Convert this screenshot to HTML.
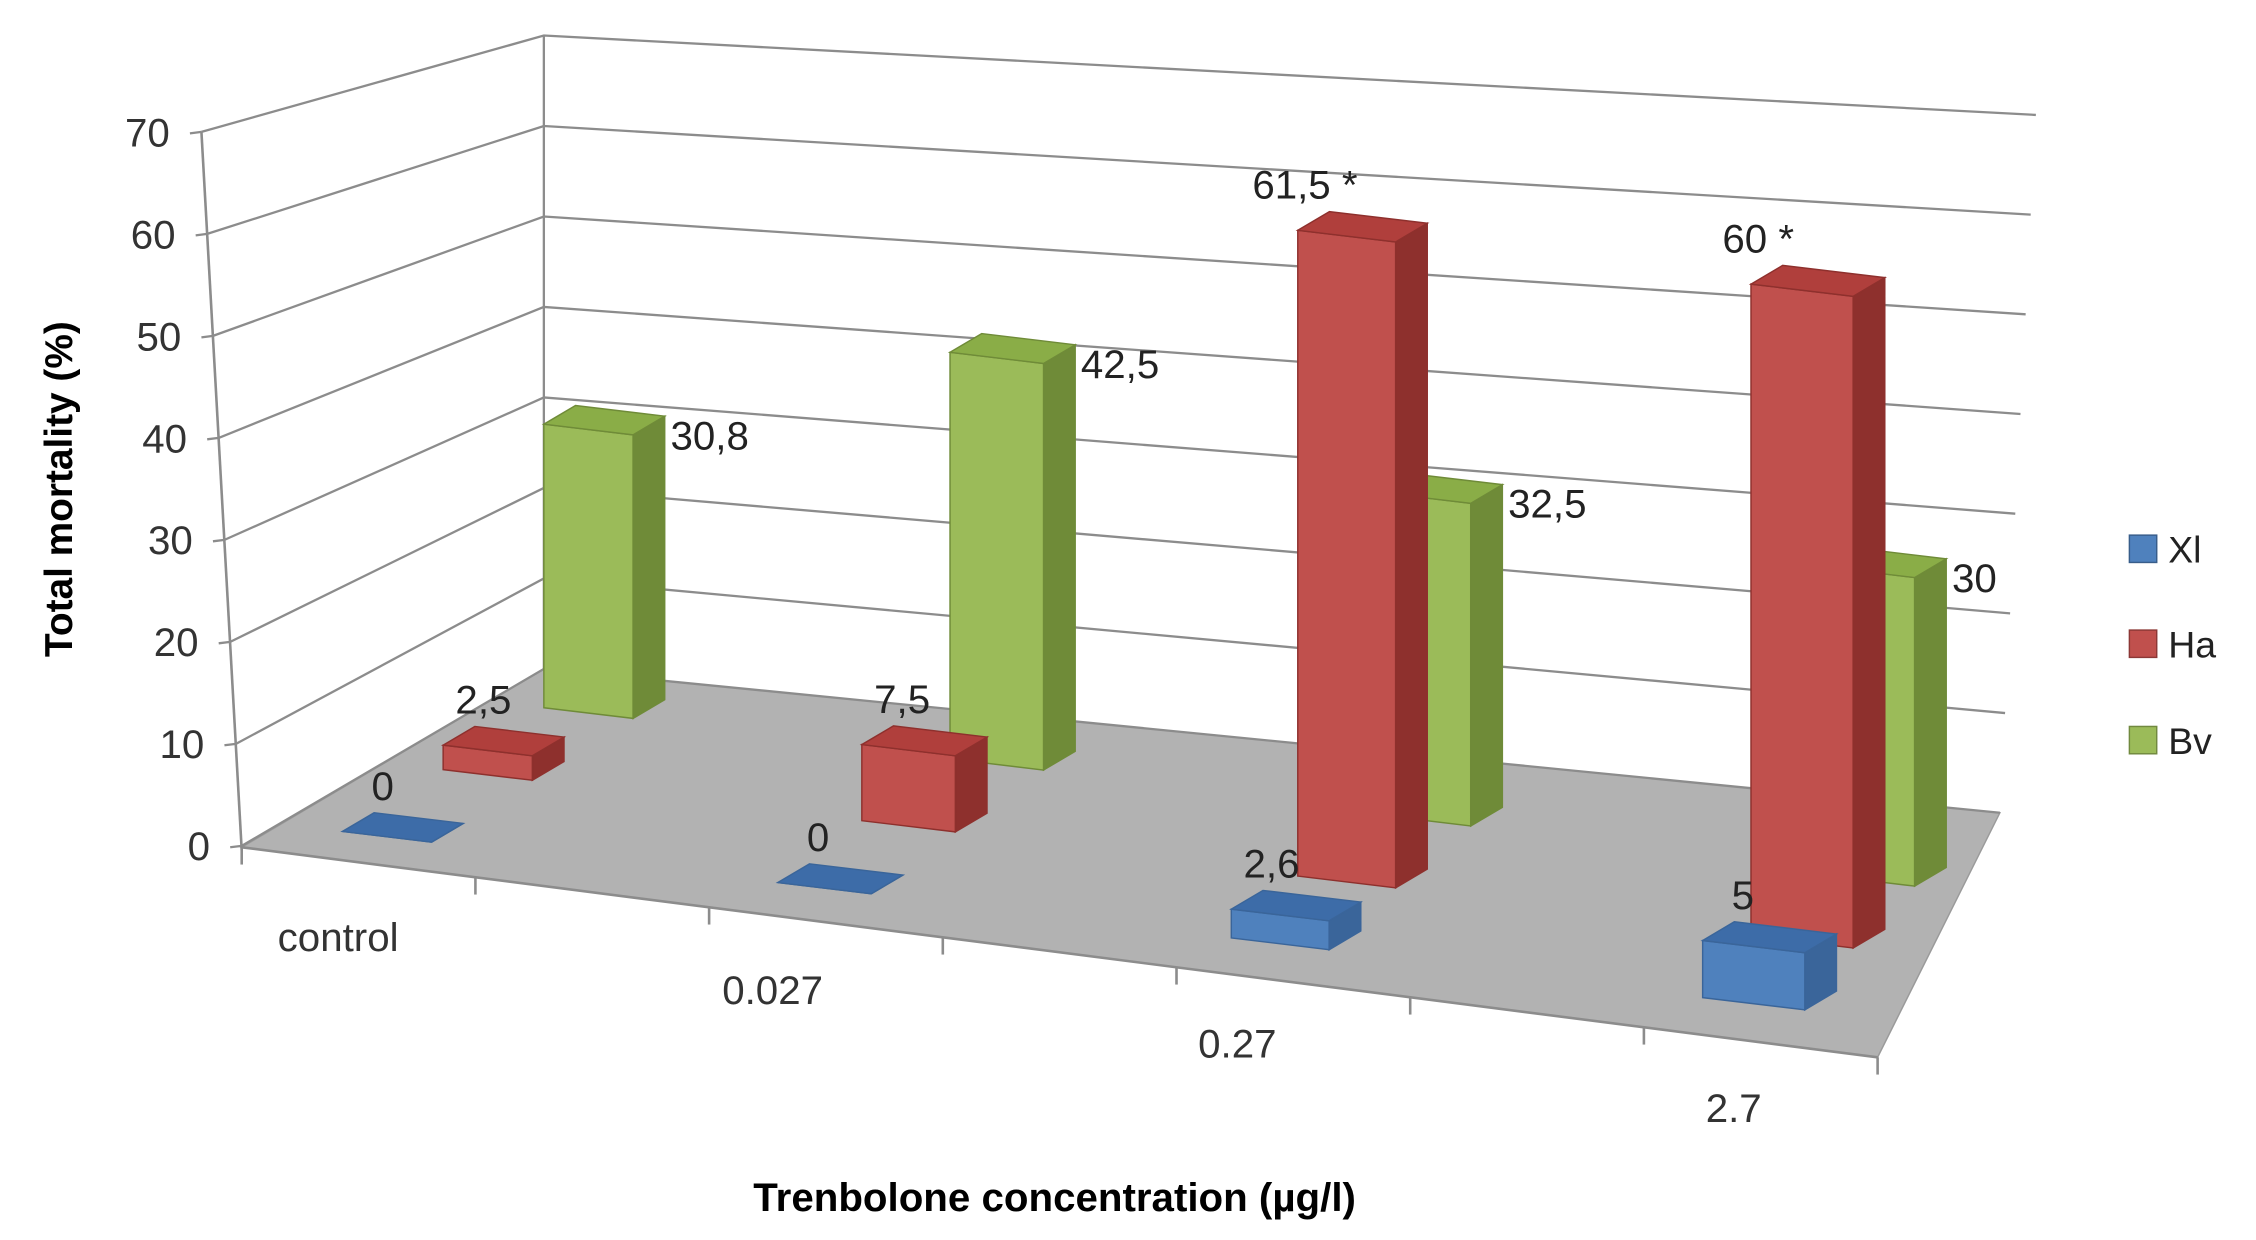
<!DOCTYPE html>
<html><head><meta charset="utf-8"><style>
html,body{margin:0;padding:0;background:#fff;}
svg{display:block;font-family:"Liberation Sans",sans-serif;}
</style></head><body>
<svg id="chart" width="2256" height="1240" viewBox="0 0 1568 862" preserveAspectRatio="none" xmlns="http://www.w3.org/2000/svg">
<g id="walls"></g>
<g id="bars"></g>
<g id="labels"></g>
<text transform="translate(50,340) rotate(-90)" text-anchor="middle" font-size="27" font-weight="bold" fill="#000">Total mortality (%)</text>
<text x="733" y="842" text-anchor="middle" font-size="28" font-weight="bold" fill="#000">Trenbolone concentration (µg/l)</text>
<g>
 <g><rect x="1480" y="372" width="19" height="19" fill="#4F81BD" stroke="#385D8A"/><text x="1507" y="391" font-size="26" fill="#222">Xl</text></g>
 <g><rect x="1480" y="438" width="19" height="19" fill="#C0504D" stroke="#8C3836"/><text x="1507" y="457" font-size="26" fill="#222">Ha</text></g>
 <g><rect x="1480" y="505" width="19" height="19" fill="#9BBB59" stroke="#71893F"/><text x="1507" y="524" font-size="26" fill="#222">Bv</text></g>
</g>
</svg>
<script>
const categories = ["control", "0.027", "0.27", "2.7"];
const seriesNames = ["Xl", "Ha", "Bv"];
const xlValues = [0, 0, 2.6, 5];
const haValues = [2.5, 7.5, 61.5, 60];
const bvValues = [30.8, 42.5, 32.5, 30];
const valueLabels = [["0","0","2,6","5"],["2,5","7,5","61,5 *","60 *"],["30,8","42,5","32,5","30"]];
const yTicks = [0, 10, 20, 30, 40, 50, 60, 70];

const NS = "http://www.w3.org/2000/svg";
const series = [xlValues, haValues, bvValues];
const colors = [
  {front:"#4F81BD", side:"#3A659A", top:"#3D6CA8"},
  {front:"#C0504D", side:"#8E302D", top:"#B03F3C"},
  {front:"#9BBB59", side:"#6F8B38", top:"#8AAD47"}
];
function mk(tag, attrs, parent){const e=document.createElementNS(NS,tag);for(const k in attrs)e.setAttribute(k,attrs[k]);parent.appendChild(e);return e;}
function pts(a){return a.map(p=>p[0].toFixed(1)+","+p[1].toFixed(1)).join(" ");}

function axisY(v){return 588-7.09*v;}
function axisX(v){return 168-28*v/70;}
function backLeft(v){return [378,465-6.29*v];}
function backRight(v){return [1390+25*v/70,565-6.93*v];}
const seriesSpread=[1.04,1.0,0.97];
function base(i,s){
  const f=seriesSpread[s];
  return [238+s*70+f*(285*i+6*i*i), 578-s*43+34*i+1.5*i*i];
}
function hScale(i,s){return 7.2+0.25*i-0.4*s;}
function barW(i){return 62+3*i;}
const depth=[22,-13];

const walls=document.getElementById("walls");
let fl=mk("polygon",{points:pts([[168,589],[378,465],[1390,565],[1305,735]]),fill:"#B2B2B2",stroke:"#9a9a9a"},walls);


yTicks.forEach(v=>{
  const bl=backLeft(v), br=backRight(v);
  const l=mk("polyline",{points:pts([[axisX(v),axisY(v)],bl,br]),fill:"none",stroke:"#8c8c8c","stroke-width":1.6},walls);
  
  
  const t=mk("line",{x1:axisX(v)-8,y1:axisY(v)+1,x2:axisX(v),y2:axisY(v),stroke:"#8c8c8c","stroke-width":1.6},walls);
  
  
  const tx=mk("text",{x:axisX(v)-22,y:axisY(v)+10,"text-anchor":"end","font-size":28,fill:"#333"},walls);
  tx.textContent=v;
  
  
});
mk("line",{x1:378,y1:465,x2:378,y2:25,stroke:"#8c8c8c","stroke-width":1.6},walls);
let ax=mk("line",{x1:axisX(70),y1:axisY(70),x2:axisX(0),y2:axisY(0)+3,stroke:"#8c8c8c","stroke-width":1.8},walls);


let fe=mk("line",{x1:168,y1:589,x2:1305,y2:735,stroke:"#8c8c8c","stroke-width":1.8},walls);


for(let k=0;k<=categories.length*2-1;k++){
  const t=k/(categories.length*2-1);
  const x=168+t*(1305-168), y=589+t*(735-589);
  mk("line",{x1:x,y1:y,x2:x,y2:y+12,stroke:"#8c8c8c","stroke-width":1.8},walls);
}
const catLabelPos=[[235,661],[537,698],[860,735],[1205,780]];
categories.forEach((c,i)=>{
  const t=mk("text",{x:catLabelPos[i][0],y:catLabelPos[i][1],"text-anchor":"middle","font-size":28,fill:"#333"},walls);
  t.textContent=c;
  
  
});

const barsG=document.getElementById("bars"), labG=document.getElementById("labels");
for(let s=2;s>=0;s--){
  series[s].forEach((v,i)=>{
    const [x,y]=base(i,s), w=barW(i), sl=w*0.12;
    const h=v*hScale(i,s);
    const fbl=[x,y], fbr=[x+w,y+sl], ftl=[x,y-h], ftr=[x+w,y+sl-h];
    const bbr=[fbr[0]+depth[0],fbr[1]+depth[1]], btr=[ftr[0]+depth[0],ftr[1]+depth[1]], btl=[ftl[0]+depth[0],ftl[1]+depth[1]];
    const g=mk("g",{},barsG);
    
    
    const c=colors[s];
    mk("polygon",{points:pts([fbr,bbr,btr,ftr]),fill:c.side,stroke:c.side,"stroke-width":1},g);
    mk("polygon",{points:pts([fbl,fbr,ftr,ftl]),fill:c.front,stroke:c.side,"stroke-width":1},g);
    mk("polygon",{points:pts([ftl,ftr,btr,btl]),fill:c.top,stroke:c.side,"stroke-width":1},g);
    const lab=mk("text",{"font-size":28,fill:"#222"},labG);
    lab.textContent=valueLabels[s][i];
    
    
    if(s===2){
      lab.setAttribute("x",x+w+depth[0]+4);
      lab.setAttribute("y",y-h+sl+10);
    }else{
      lab.setAttribute("text-anchor","middle");
      lab.setAttribute("x",x+(v>20?5:28));
      lab.setAttribute("y",y-h-22);
    }
  });
}
</script>
</body></html>
